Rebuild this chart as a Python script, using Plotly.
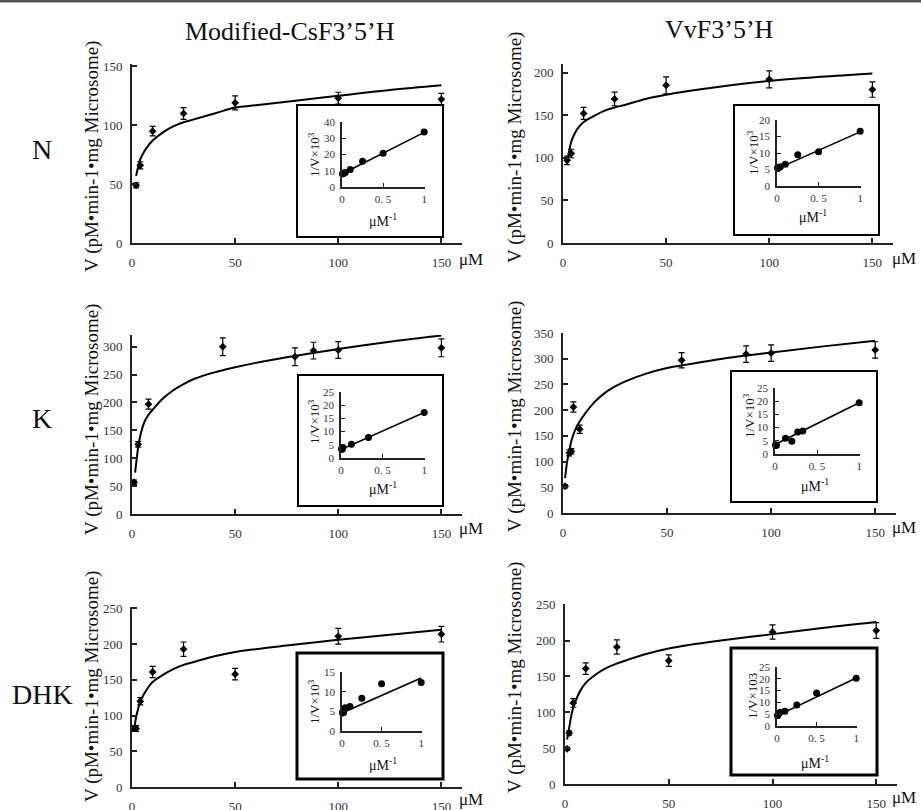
import plotly.graph_objects as go

W, H = 921, 810

# ---------------- DATA ----------------
col_titles = ["Modified-CsF3’5’H", "VvF3’5’H"]
row_labels = ["N", "K", "DHK"]
y_title = "V (pM•min-1•mg Microsome)"
x_unit = "μM"

# Main panels: substrate (μM), velocity, error
n_cs_x = [2, 4, 10, 25, 50, 100, 150]
n_cs_y = [49, 66, 95, 110, 119, 123, 122]
n_cs_e = [2, 3, 4, 5, 6, 5, 5]
n_cs_fit_x = [2, 3, 4, 6, 8, 10, 15, 20, 25, 30, 40, 50, 60, 75, 100, 125, 150]
n_cs_fit_y = [57, 65, 71, 78, 83, 87, 94, 99, 102.5, 105, 110, 115, 117, 120, 125, 130, 134]

n_vv_x = [2, 4, 10, 25, 50, 100, 150]
n_vv_y = [97, 105, 152, 169, 185, 192, 180]
n_vv_e = [5, 5, 7, 8, 10, 10, 9]
n_vv_fit_x = [2, 3, 4, 6, 8, 10, 15, 20, 25, 30, 40, 50, 60, 75, 100, 125, 150]
n_vv_fit_y = [93, 108, 119, 130, 137, 142, 149, 155, 159, 162, 169, 174, 178, 183, 190, 195, 199]

k_cs_x = [1, 3, 8, 44, 79, 88, 100, 150]
k_cs_y = [57, 125, 197, 300, 282, 293, 294, 298]
k_cs_e = [4, 5, 9, 16, 16, 15, 15, 16]
k_cs_fit_x = [1.5, 2, 3, 4, 6, 8, 10, 15, 20, 25, 30, 40, 50, 60, 75, 100, 125, 150]
k_cs_fit_y = [74, 90, 120, 140, 165, 178, 187, 207, 222, 233, 242, 254, 263, 271, 281, 296, 309, 320]

k_vv_x = [1, 3, 4, 5, 8, 57, 88, 100, 150]
k_vv_y = [52, 117, 120, 206, 163, 297, 309, 311, 317]
k_vv_e = [3, 6, 5, 10, 8, 15, 16, 16, 16]
k_vv_fit_x = [1, 2, 3, 4, 6, 8, 10, 15, 20, 25, 30, 40, 50, 60, 75, 100, 125, 150]
k_vv_fit_y = [68, 100, 120, 140, 163, 178, 190, 215, 233, 246, 256, 271, 282, 289, 299, 312, 324, 335]

dhk_cs_x = [1, 2, 4, 10, 25, 50, 100, 150]
dhk_cs_y = [82, 82, 120, 161, 193, 158, 211, 214]
dhk_cs_e = [4, 4, 5, 8, 10, 8, 11, 11]
dhk_cs_fit_x = [1, 2, 3, 4, 6, 8, 10, 15, 20, 25, 30, 40, 50, 60, 75, 100, 125, 150]
dhk_cs_fit_y = [80, 98, 110, 120, 131, 140, 147, 157, 165, 171, 175, 183, 189, 193, 198, 206, 213, 220]

dhk_vv_x = [1, 2, 4, 10, 25, 50, 100, 150]
dhk_vv_y = [49, 71, 113, 161, 191, 172, 212, 214]
dhk_vv_e = [2, 3, 6, 8, 10, 8, 10, 11]
dhk_vv_fit_x = [1, 2, 3, 4, 6, 8, 10, 15, 20, 25, 30, 40, 50, 60, 75, 100, 125, 150]
dhk_vv_fit_y = [62, 78, 95, 107, 122, 133, 141, 153, 162, 168, 173, 182, 189, 194, 200, 209, 218, 226]

# Lineweaver-Burk insets: 1/S (μM^-1), 1/V x 10^3
inv_s = [0.0067, 0.01, 0.02, 0.04, 0.1, 0.25, 0.5, 1.0]
lb_n_cs_y = [8.2, 8.1, 8.6, 9.0, 10.7, 15.8, 20.8, 33.8]
lb_n_cs_line = [8.0, 33.6]
lb_n_vv_y = [5.5, 5.3, 5.6, 5.8, 6.6, 9.5, 10.4, 16.6]
lb_n_vv_line = [5.2, 16.4]
lb_k_cs_x = [0.0067, 0.01, 0.0125, 0.023, 0.125, 0.33, 1.0]
lb_k_cs_y = [3.4, 3.5, 3.3, 4.0, 5.2, 7.8, 17.2]
lb_k_cs_line = [3.2, 17.2]
lb_k_vv_x = [0.0067, 0.01, 0.0175, 0.125, 0.2, 0.27, 0.33, 1.0]
lb_k_vv_y = [3.4, 3.3, 3.3, 6.0, 4.8, 8.3, 8.7, 19.4]
lb_k_vv_line = [3.6, 19.4]
lb_dhk_cs_y = [4.6, 4.9, 4.7, 5.9, 6.2, 8.3, 12.0, 12.3]
lb_dhk_cs_line = [4.6, 13.5]
lb_dhk_vv_y = [4.4, 4.6, 5.3, 5.8, 6.2, 8.9, 14.0, 20.2]
lb_dhk_vv_line = [4.3, 20.3]
lb_line_x = [0, 1]

inset_x_ticks = [0, 0.5, 1]
inset_x_ticktext = ["0", "0. 5", "1"]
inset_y_titles = ["1/V×10<sup>3</sup>"] * 5 + ["1/V×103"]
inset_x_title = "μM<sup>-1</sup>"

# ---------------- LAYOUT HELPERS (pixel geometry) ----------------
def fx(p):
    return p / W

def fy(p):
    return 1 - p / H

SERIF = "'Liberation Serif', 'Times New Roman', serif"
TICKFONT = dict(family=SERIF, size=13, color="#333")

main_data = [
    (n_cs_x, n_cs_y, n_cs_e, n_cs_fit_x, n_cs_fit_y),
    (n_vv_x, n_vv_y, n_vv_e, n_vv_fit_x, n_vv_fit_y),
    (k_cs_x, k_cs_y, k_cs_e, k_cs_fit_x, k_cs_fit_y),
    (k_vv_x, k_vv_y, k_vv_e, k_vv_fit_x, k_vv_fit_y),
    (dhk_cs_x, dhk_cs_y, dhk_cs_e, dhk_cs_fit_x, dhk_cs_fit_y),
    (dhk_vv_x, dhk_vv_y, dhk_vv_e, dhk_vv_fit_x, dhk_vv_fit_y),
]
# x0px, x1px, xmax, ybottom px, ytop px, ymax, dtick
main_geo = [
    (132, 462, 160, 243, 64, 152, 50),
    (563, 893, 160, 243, 64, 210, 50),
    (132, 462, 160, 514, 335, 321, 50),
    (563, 896, 160, 513, 333, 350, 50),
    (132, 462, 160, 787, 607, 252, 50),
    (565, 897, 160, 784, 604, 251, 50),
]

inset_data = [
    (inv_s, lb_n_cs_y, lb_n_cs_line),
    (inv_s, lb_n_vv_y, lb_n_vv_line),
    (lb_k_cs_x, lb_k_cs_y, lb_k_cs_line),
    (lb_k_vv_x, lb_k_vv_y, lb_k_vv_line),
    (inv_s, lb_dhk_cs_y, lb_dhk_cs_line),
    (inv_s, lb_dhk_vv_y, lb_dhk_vv_line),
]
inset_geo = [
    (342, 425, 187, 122, 40, 10),
    (777, 861, 186, 120, 20, 5),
    (341, 425, 458, 392, 25, 5),
    (775, 860, 454, 388, 25, 5),
    (342, 422, 731, 672, 15, 5),
    (777, 857, 726, 667, 25, 5),
]
inset_boxes = [
    (297, 443, 105, 237, 2),
    (734, 879, 105, 235, 2),
    (298, 443, 375, 506, 2),
    (731, 877, 371, 502, 2),
    (297, 443, 653, 779, 3),
    (731, 877, 648, 775, 3),
]
inset_ytitle_pos = [(314, 155), (753, 153), (314, 422), (749, 416), (314, 702), (752, 696)]
inset_xtitle_pos = [(383, 220), (813, 216), (383, 488), (815, 485), (383, 764), (815, 762)]

fig = go.Figure()
layout = dict(
    template="none",
    width=W, height=H, margin=dict(l=0, r=0, t=0, b=0, pad=0, autoexpand=False),
    paper_bgcolor="white", plot_bgcolor="rgba(0,0,0,0)", showlegend=False,
)

for i, ((x, y, e, fxs, fys), (x0, x1, xm, yb, yt, ym, dt)) in enumerate(zip(main_data, main_geo)):
    n = i + 1
    xa, ya = ("x" if n == 1 else f"x{n}"), ("y" if n == 1 else f"y{n}")
    fig.add_trace(go.Scatter(x=fxs, y=fys, mode="lines", line=dict(color="black", width=2, shape="spline"),
                             xaxis=xa, yaxis=ya, hoverinfo="skip"))
    fig.add_trace(go.Scatter(x=x, y=y, mode="markers", marker=dict(symbol="diamond", size=6, color="black"),
                             error_y=dict(type="data", array=e, thickness=1.2, width=3, color="black"),
                             xaxis=xa, yaxis=ya, cliponaxis=False))
    layout[f"xaxis{n}"] = dict(domain=[fx(x0), fx(x1)], range=[0, xm], anchor=ya, showgrid=False, zeroline=False,
                               automargin=False,
                               showline=True, linecolor="#222", linewidth=2, ticks="inside", ticklen=5,
                               tickcolor="#222", tickwidth=1.5, tickvals=[0, 50, 100, 150], tickfont=TICKFONT,
                               ticklabelstandoff=6)
    layout[f"yaxis{n}"] = dict(domain=[fy(yb), fy(yt)], range=[0, ym], anchor=xa, showgrid=False, zeroline=False,
                               automargin=False,
                               showline=True, linecolor="#222", linewidth=2, ticks="inside", ticklen=5,
                               tickcolor="#222", tickwidth=1.5, dtick=dt, tick0=0, tickfont=TICKFONT,
                               ticklabelstandoff=5)

for i, ((x, y, line), (x0, x1, yb, yt, ym, dt)) in enumerate(zip(inset_data, inset_geo)):
    n = i + 7
    xa, ya = f"x{n}", f"y{n}"
    fig.add_trace(go.Scatter(x=lb_line_x, y=line, mode="lines", line=dict(color="black", width=1.6),
                             xaxis=xa, yaxis=ya, hoverinfo="skip"))
    fig.add_trace(go.Scatter(x=x, y=y, mode="markers", marker=dict(symbol="circle", size=7, color="black"),
                             xaxis=xa, yaxis=ya, cliponaxis=False))
    layout[f"xaxis{n}"] = dict(domain=[fx(x0), fx(x1)], range=[0, 1.01], anchor=ya, showgrid=False, zeroline=False,
                               automargin=False,
                               showline=True, linecolor="#222", linewidth=1.5, ticks="inside", ticklen=4,
                               tickcolor="#222", tickvals=inset_x_ticks, ticktext=inset_x_ticktext,
                               tickfont=dict(family=SERIF, size=11, color="#333"), ticklabelstandoff=1)
    layout[f"yaxis{n}"] = dict(domain=[fy(yb), fy(yt)], range=[0, ym], anchor=xa, showgrid=False, zeroline=False,
                               automargin=False,
                               showline=True, linecolor="#222", linewidth=1.5, ticks="inside", ticklen=4,
                               tickcolor="#222", dtick=dt, tick0=0,
                               tickfont=dict(family=SERIF, size=11, color="#333"), ticklabelstandoff=3)

fig.update_layout(**layout)

shapes = [dict(type="rect", xref="paper", yref="paper", x0=0, x1=1, y0=fy(0), y1=fy(2.5),
               fillcolor="#555", line=dict(width=0))]
for (x0, x1, y0, y1, lw) in inset_boxes:
    shapes.append(dict(type="rect", xref="paper", yref="paper", x0=fx(x0), x1=fx(x1), y0=fy(y1), y1=fy(y0),
                       line=dict(color="black", width=lw), fillcolor="rgba(0,0,0,0)"))

ann = []
def text(x, y, s, size, angle=0, color="#111"):
    ann.append(dict(x=fx(x), y=fy(y), xref="paper", yref="paper", text=s, showarrow=False,
                    textangle=angle, xanchor="center", yanchor="middle",
                    font=dict(family=SERIF, size=size, color=color)))

text(290, 31, col_titles[0], 26)
text(719, 30, col_titles[1], 26)
for lab, yy in zip(row_labels, [150, 418, 694]):
    text(42, yy, lab, 28)
for (xx, yy) in [(92, 157), (92, 420), (92, 687), (515, 148), (515, 417), (515, 678)]:
    text(xx, yy, y_title, 19, angle=-90)
for (xx, yy) in [(471, 259), (904, 258), (471, 528), (904, 527), (471, 799), (904, 797)]:
    text(xx, yy, x_unit, 17)
for s, (xx, yy) in zip(inset_y_titles, inset_ytitle_pos):
    text(xx, yy, s, 13, angle=-90)
for (xx, yy) in inset_xtitle_pos:
    text(xx, yy, inset_x_title, 14)

fig.update_layout(shapes=shapes, annotations=ann)
fig.write_html("out.html", config={"displayModeBar": False},
               post_script="document.body.style.margin='0';document.body.style.overflow='hidden';")
